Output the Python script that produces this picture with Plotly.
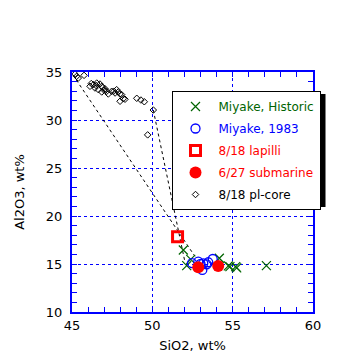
import plotly.graph_objects as go

# ---- data ----
historic_sio2 = [51.93, 52.39, 52.14, 54.17, 54.73, 54.83, 55.19, 55.25, 57.1]
historic_al2o3 = [16.46, 15.49, 14.83, 15.6, 14.8, 14.72, 14.72, 14.6, 14.83]

m1983_sio2 = [52.47, 52.86, 53.17, 53.48, 53.76, 53.11, 53.38, 53.0]
m1983_al2o3 = [15.1, 15.24, 15.07, 15.18, 15.52, 14.38, 14.97, 15.0]

lapilli_sio2 = [51.57]
lapilli_al2o3 = [17.85]

submarine_sio2 = [52.86, 54.1]
submarine_al2o3 = [14.66, 14.79]

plcore_sio2 = [45.19, 45.29, 45.39, 45.75, 46.12, 46.33, 46.54, 46.74, 46.43, 46.64,
               46.85, 47.05, 47.16, 47.26, 46.85, 47.78, 47.88, 47.99, 48.09, 47.68,
               47.99, 48.19, 47.47, 48.3, 49.03, 49.29, 49.5, 50.06, 49.71, 46.2,
               46.5, 47.0, 47.6, 46.9]
plcore_al2o3 = [34.79, 34.55, 34.37, 34.65, 33.51, 33.68, 33.85, 33.75, 33.33, 33.16,
                32.92, 33.26, 32.99, 32.71, 33.51, 33.16, 32.92, 32.71, 32.64, 32.81,
                31.95, 32.22, 32.99, 32.16, 32.26, 32.08, 31.9, 31.04, 28.45, 33.8,
                33.6, 33.1, 33.0, 33.4]

mix_a_sio2 = [45.06, 52.65]
mix_a_al2o3 = [34.69, 15.8]
mix_b_sio2 = [50.06, 52.03]
mix_b_al2o3 = [31.04, 15.2]

FONT = "DejaVu Sans"
BLUE = "#0000ff"
GREEN = "#006400"
RED = "#ff0000"

fig = go.Figure()

fig.add_trace(go.Scatter(x=mix_a_sio2, y=mix_a_al2o3, mode="lines",
                         line=dict(color="black", width=1, dash="dot"),
                         showlegend=False, hoverinfo="skip"))
fig.add_trace(go.Scatter(x=mix_b_sio2, y=mix_b_al2o3, mode="lines",
                         line=dict(color="black", width=1, dash="dot"),
                         showlegend=False, hoverinfo="skip"))

fig.add_trace(go.Scatter(
    x=plcore_sio2, y=plcore_al2o3, mode="markers", legendgroup="e", legendrank=5,
    name='<span style="color:black">8/18 pl-core</span>',
    marker=dict(symbol="diamond-open", size=5, line=dict(color="black", width=1), color="black")))
fig.add_trace(go.Scatter(
    x=historic_sio2, y=historic_al2o3, mode="markers", legendgroup="a", legendrank=1,
    name=f'<span style="color:{GREEN}">Miyake, Historic</span>',
    marker=dict(symbol="x-thin-open", size=9, line=dict(color=GREEN, width=1.2), color=GREEN)))
fig.add_trace(go.Scatter(
    x=m1983_sio2, y=m1983_al2o3, mode="markers", legendgroup="b", legendrank=2,
    name=f'<span style="color:{BLUE}">Miyake, 1983</span>',
    marker=dict(symbol="circle-open", size=9, line=dict(color=BLUE, width=1.3), color=BLUE)))
fig.add_trace(go.Scatter(
    x=submarine_sio2, y=submarine_al2o3, mode="markers", legendgroup="d", legendrank=4,
    name=f'<span style="color:{RED}">6/27 submarine</span>',
    marker=dict(symbol="circle", size=12, color=RED, line=dict(width=0))))
fig.add_trace(go.Scatter(
    x=lapilli_sio2, y=lapilli_al2o3, mode="markers", legendgroup="c", legendrank=3,
    name=f'<span style="color:{RED}">8/18 lapilli</span>',
    marker=dict(symbol="square-open", size=10, line=dict(color=RED, width=3), color=RED)))

axis_common = dict(
    showline=True, linecolor=BLUE, linewidth=2, mirror="allticks",
    ticks="inside", ticklen=5, tickwidth=1, tickcolor=BLUE,
    showgrid=True, gridcolor=BLUE, griddash="dot", gridwidth=1,
    zeroline=False, automargin=False,
    tickfont=dict(family=FONT, size=13, color="black"),
    minor=dict(dtick=1, ticks="inside", ticklen=5, tickwidth=1, tickcolor=BLUE, showgrid=False),
)

# page is offset by the 8px body margin; plot area sits at page px 72..313 x 72..312
L, T = 64, 64
W, H = 241, 240
R = 360 - L - W
B = 360 - T - H
PX0, PY1 = 72, 312

def px_x(p):
    return (p - PX0) / W

def px_y(p):
    return (PY1 - p) / H

fig.update_layout(
    width=360, height=360,
    margin=dict(l=L, r=R, t=T, b=B),
    paper_bgcolor="white", plot_bgcolor="white",
    font=dict(family=FONT, size=12, color="black"),
    xaxis=dict(range=[45, 60], tick0=45, dtick=5,
               title=dict(text="SiO2, wt%", font=dict(family=FONT, size=13), standoff=9),
               **axis_common),
    yaxis=dict(range=[10, 35], tick0=10, dtick=5, ticklabelstandoff=5,
               title=dict(text="Al2O3, wt%", font=dict(family=FONT, size=13), standoff=18),
               **axis_common),
    showlegend=True,
    legend=dict(x=px_x(171.5), y=px_y(91), xanchor="left", yanchor="top",
                bgcolor="white", bordercolor="black", borderwidth=1,
                font=dict(family=FONT, size=12), tracegroupgap=3,
                traceorder="grouped", itemwidth=36),
    shapes=[dict(type="rect", xref="paper", yref="paper",
                 x0=px_x(175), x1=px_x(325.5), y0=px_y(207), y1=px_y(94),
                 fillcolor="black", line=dict(width=0), layer="above")],
)

fig.write_html("out.html")
